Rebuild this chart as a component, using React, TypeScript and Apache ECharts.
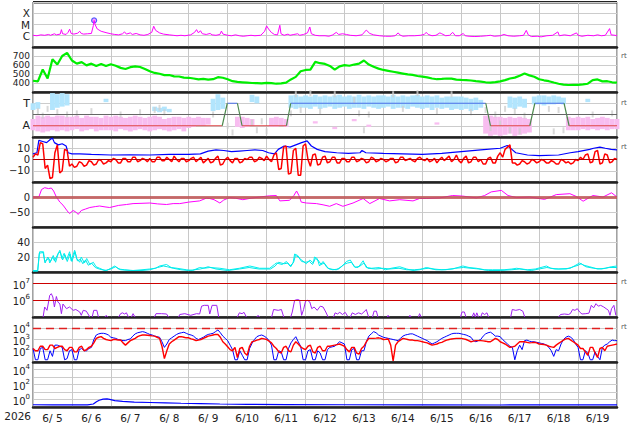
import React, { useEffect, useRef } from 'react';
import * as echarts from 'echarts';

const FONT = 'DejaVu Sans';
const STEP = 0.125; // 3-hour sampling, in days
const FINE = 0.0625; // 1.5-hour sampling, in days
const YEAR_LABEL = '2026';
const DAY_LABELS = ['6/ 5', '6/ 6', '6/ 7', '6/ 8', '6/ 9', '6/10', '6/11', '6/12', '6/13', '6/14', '6/15', '6/16', '6/17', '6/18', '6/19'];
const FLARE_CLASSES: Record<string, string> = { '-6': 'C', '-5': 'M', '-4': 'X' };
const SECTOR_LABELS: Record<string, string> = { '1': 'A', '3': 'T' };

// Panel 1: X-ray flux [day, W/m2]
const XRAY = [[0,1.1e-6],[0.1,1.0e-6],[0.2,1.2e-6],[0.3,1.1e-6],[0.4,1.3e-6],[0.45,1.1e-6],[0.55,1.5e-6],[0.6,1.2e-6],[0.7,1.4e-6],[0.73,3.5e-6],[0.76,1.5e-6],[0.85,1.3e-6],[0.9,2.0e-6],[0.94,3.8e-6],[0.98,1.6e-6],[1.05,1.4e-6],[1.15,1.7e-6],[1.2,2.5e-6],[1.24,1.6e-6],[1.3,1.4e-6],[1.4,1.5e-6],[1.5,1.6e-6],[1.55,8e-6],[1.57,2.3e-5],[1.6,9e-6],[1.65,4e-6],[1.75,2.5e-6],[1.9,1.8e-6],[2.0,1.5e-6],[2.1,1.3e-6],[2.2,1.2e-6],[2.3,1.5e-6],[2.35,2.2e-6],[2.4,1.4e-6],[2.5,1.8e-6],[2.55,1.3e-6],[2.65,1.6e-6],[2.75,1.2e-6],[2.85,1.1e-6],[2.95,1.3e-6],[3.05,2.0e-6],[3.1,7e-6],[3.15,3e-6],[3.25,1.8e-6],[3.35,1.4e-6],[3.5,1.2e-6],[3.6,1.1e-6],[3.7,1.0e-6],[3.8,1.1e-6],[3.9,1.0e-6],[4.05,1.2e-6],[4.15,2e-6],[4.2,3.5e-6],[4.25,1.8e-6],[4.3,2.8e-6],[4.35,1.5e-6],[4.45,1.3e-6],[4.55,1.6e-6],[4.6,1.2e-6],[4.7,1.1e-6],[4.8,1.3e-6],[4.84,2.6e-6],[4.88,1.4e-6],[5.0,1.1e-6],[5.1,1.0e-6],[5.2,1.2e-6],[5.3,1.0e-6],[5.4,0.9e-6],[5.5,1.0e-6],[5.6,1.1e-6],[5.7,1.0e-6],[5.85,1.1e-6],[5.95,2.5e-6],[6.0,7.5e-6],[6.05,4e-6],[6.12,2e-6],[6.2,1.3e-6],[6.28,1.2e-6],[6.34,8.5e-6],[6.37,1.5e-6],[6.45,1.1e-6],[6.55,1.4e-6],[6.6,1.1e-6],[6.7,1.3e-6],[6.8,1.5e-6],[6.85,1.1e-6],[6.95,1.3e-6],[7.05,1.8e-6],[7.11,6e-6],[7.15,1.5e-6],[7.25,1.1e-6],[7.35,1.0e-6],[7.5,1.0e-6],[7.6,0.9e-6],[7.7,1.2e-6],[7.79,2.0e-6],[7.85,1.3e-6],[7.95,1.5e-6],[8.05,1.3e-6],[8.15,1.1e-6],[8.3,1.0e-6],[8.45,1.2e-6],[8.56,3.2e-6],[8.65,1.6e-6],[8.75,1.2e-6],[8.9,1.0e-6],[9.05,0.9e-6],[9.2,0.9e-6],[9.3,1.0e-6],[9.38,1.8e-6],[9.42,1.2e-6],[9.5,0.9e-6],[9.65,1.0e-6],[9.8,1.0e-6],[9.95,1.1e-6],[10.05,1.3e-6],[10.1,2.0e-6],[10.15,1.3e-6],[10.25,1.0e-6],[10.35,1.1e-6],[10.45,1.8e-6],[10.5,1.5e-6],[10.6,1.0e-6],[10.7,1.1e-6],[10.78,2.0e-6],[10.85,1.0e-6],[10.95,1.0e-6],[11.05,1.6e-6],[11.1,1.0e-6],[11.2,0.9e-6],[11.35,0.85e-6],[11.5,0.9e-6],[11.65,1.0e-6],[11.75,1.1e-6],[11.85,0.9e-6],[12.0,1.0e-6],[12.1,1.3e-6],[12.2,1.0e-6],[12.35,0.9e-6],[12.5,1.0e-6],[12.6,1.1e-6],[12.67,3e-6],[12.72,1.2e-6],[12.8,0.85e-6],[12.95,0.9e-6],[13.05,0.8e-6],[13.2,1.0e-6],[13.35,1.1e-6],[13.48,2.2e-6],[13.52,1.0e-6],[13.65,1.2e-6],[13.8,1.0e-6],[13.96,1.8e-6],[14.0,1.1e-6],[14.1,0.9e-6],[14.25,1.1e-6],[14.4,1.0e-6],[14.5,1.2e-6],[14.6,1.0e-6],[14.7,1.1e-6],[14.81,4.3e-6],[14.85,1.2e-6],[14.95,1.1e-6],[15,1.0e-6]];
const FLARE_EVENTS = [[1.57, 2.3e-5]];

// Panel 2: solar wind speed, 3-hourly (km/s)
const SPEED = [
  425, 418, 550, 450, 665, 605, 700, 735,
  650, 615, 632, 596, 615, 590, 612, 588,
  608, 592, 568, 556, 576, 584, 578, 556,
  530, 512, 503, 488, 489, 474, 472, 459,
  458, 450, 440, 445, 438, 442, 465, 458,
  442, 420, 412, 408, 404, 400, 398, 395,
  402, 398, 392, 396, 405, 440, 468, 530,
  545, 548, 635, 620, 612, 590, 548, 585,
  598, 592, 605, 615, 650, 605, 580, 560,
  545, 535, 525, 515, 505, 495, 490, 478,
  470, 462, 450, 442, 445, 450, 448, 438,
  434, 432, 428, 420, 415, 408, 404, 410,
  418, 432, 450, 460, 480, 505, 485, 470,
  442, 430, 420, 405, 392, 382, 378, 380,
  380, 385, 392, 432, 440, 418, 420, 408,
  405,
];

// Panel 3: sector plot, 3-hourly value ranges [low, high] (A=1, T=3)
const SECTOR_T_RANGE = [
  [2.4,3.0],[2.5,3.1],null,null,[2.4,3.9],[2.6,3.8],[2.7,3.9],[2.8,3.8],
  null,null,null,null,null,null,null,[3.1,3.4],
  null,null,null,null,null,null,null,null,
  null,[2.3,2.7],[2.2,2.6],[2.3,2.7],[2.2,2.5],null,null,null,
  null,null,null,null,null,[2.3,3.4],[2.4,3.8],[2.5,3.5],
  null,null,null,null,null,[3.1,3.75],[3.0,3.6],null,
  null,null,null,null,null,[2.6,3.7],[2.5,3.75],[2.6,3.6],
  [2.6,3.7],[2.5,3.6],[2.7,3.75],[2.5,3.6],[2.6,3.7],[2.7,3.6],[2.5,3.7],[2.6,3.75],
  [2.7,3.6],[2.5,3.7],[2.6,3.6],[2.6,3.75],[2.5,3.6],[2.7,3.7],[2.6,3.6],[2.5,3.7],
  [2.6,3.7],[2.7,3.6],[2.5,3.75],[2.6,3.6],[2.6,3.7],[2.5,3.6],[2.7,3.7],[2.6,3.75],
  [2.5,3.6],[2.6,3.7],[2.4,3.6],[2.6,3.7],[2.5,3.5],[2.6,3.6],[2.4,3.6],[2.5,3.6],
  [2.4,3.6],[2.5,3.5],[2.3,3.4],[2.4,3.5],[2.6,3.3],null,null,null,
  null,null,[2.6,3.6],[2.5,3.5],[2.7,3.6],[2.6,3.4],null,[2.9,3.6],
  [2.9,3.7],[2.8,3.7],[2.9,3.6],[2.9,3.7],[3.0,3.6],[2.9,3.5],null,null,
  null,null,[3.1,3.4],null,null,null,null,null,
  null,
];
const SECTOR_A_RANGE = [
  [0.6,1.6],[0.5,1.9],[0.4,1.8],[0.5,1.9],[0.6,1.8],[0.5,1.9],[0.6,1.9],[0.5,1.8],
  [0.6,1.8],[0.7,1.9],[0.5,1.7],[0.6,1.9],[0.7,1.8],[0.5,1.8],[0.6,1.7],[0.6,1.9],
  [0.6,1.8],[0.5,1.9],[0.7,1.8],[0.6,1.7],[0.5,1.8],[0.6,1.9],[0.7,1.8],[0.6,1.7],
  [0.5,1.8],[0.6,1.9],[0.7,1.8],[0.6,1.6],[0.5,1.7],[0.6,1.8],[0.7,1.8],[0.5,1.7],
  [0.8,1.8],[0.9,1.7],[1.0,1.8],[1.0,1.7],[1.1,1.7],null,null,null,
  null,null,[0.9,1.8],[0.8,1.8],[0.9,1.7],[1.0,1.6],null,null,
  null,[0.9,1.7],[0.9,1.8],[1.0,1.7],[0.9,1.6],null,null,null,
  null,null,[1.2,1.4],null,null,null,[0.7,0.9],null,
  null,null,[1.4,1.6],null,null,[0.9,1.1],null,null,
  null,null,null,null,null,null,null,null,
  null,null,null,[1.1,1.3],null,null,null,null,
  null,null,null,null,null,[0.3,1.9],[0.1,1.9],[0.2,1.8],
  [0.1,1.8],[0.2,1.7],[0.3,1.8],[0.1,1.7],[0.2,1.8],[0.3,1.7],[0.4,1.6],null,
  null,null,null,null,null,null,[0.6,1.8],[0.6,1.7],
  [0.6,1.8],[0.7,1.7],[0.6,1.8],[0.7,1.6],[0.6,1.7],[0.7,1.8],[0.6,1.7],[0.7,1.6],
  [0.7,1.6],
];
const SECTOR_GREY = [
  null, 2.3, 1.9, 2.5, null, 2.2, null, 2.0,
  null, 2.1, null, null, 2.3, null, null, null,
  null, null, 2.0, null, null, null, 2.2, null,
  null, 2.4, 2.6, 2.2, null, null, null, null,
  null, null, null, null, null, 2.0, null, null,
  1.0, 0.4, null, null, null, 1.3, 0.6, 1.4,
  0.5, null, null, null, null, 2.1, 3.8, 2.4,
  null, 3.9, null, 2.3, null, null, 3.8, null,
  null, null, 3.3, 2.1, 0.6, 2.0, null, null,
  null, null, 3.8, null, 2.5, null, null, 3.9,
  null, null, null, 2.3, null, null, 3.8, null,
  null, null, 2.2, null, null, 2.4, 0.8, 2.0,
  1.2, 2.5, 0.6, 2.3, 0.5, 1.9, null, null,
  null, null, 2.5, 0.5, 2.4, 0.6, null, null,
  null, null, null, 2.0, null, null, null, 2.1,
  null,
];
const SECTOR_LINE = [[0,1],[4.86,1],[4.99,3],[5.25,3],[5.37,1],[6.51,1],[6.62,3],[11.63,3],[11.75,1],[12.76,1],[12.89,3],[13.64,3],[13.77,1],[15,1]];

// Panel 4: IMF Bt [day, nT] and Bz 1.5-hourly (nT)
const BT = [[0,5],[0.1,6],[0.15,17],[0.25,16],[0.35,15],[0.45,18],[0.5,19],[0.55,15],[0.65,13],[0.75,14],[0.85,12],[0.9,6],[1.0,5],[1.2,5],[1.5,4.5],[2.0,4],[2.5,4.2],[3.0,4],[3.5,4.5],[4.0,4.5],[4.3,5],[4.5,7.5],[4.7,8.5],[4.9,8],[5.1,7],[5.3,7.5],[5.5,8],[5.7,8.5],[5.9,8],[6.05,6],[6.2,5],[6.3,9],[6.45,12],[6.6,11],[6.75,13],[6.9,15],[7.04,16.5],[7.15,12],[7.3,9],[7.5,7],[7.8,6],[8.1,5.5],[8.4,6],[8.45,8],[8.55,6],[9.0,5.5],[9.5,5],[10.0,4.5],[10.5,5.5],[11.0,7],[11.5,8.5],[12.0,10],[12.18,12.5],[12.3,9],[12.4,6],[12.7,4],[13.0,3.5],[13.5,4],[13.8,6],[14.0,7],[14.3,9],[14.4,10],[14.56,11],[14.7,10],[14.85,9],[15,8.5]];
const BZ = [
  2, 5, 4, 15, 14, -8, -5, -17, -16, 6, 13, -12, -10, 9, 8, -6,
  -4, -7, -6, -2, -3, -6, -5, -1, -2, -5, -4, 0, -1, -4, -3, -1,
  -2, 1, 0, -3, -3, 1, 1, -2, -2, 2, 2, -2, -1, 1, 0, -2,
  1, -2, -2, 2, 2, -1, -1, 2, 0, -2, 3, 0, -2, 1, 1, -2,
  -1, 1, 2, -2, 0, 2, -3, -1, 1, -3, -2, 1, 3, -5, -4, 0,
  2, -1, -3, 1, 1, -3, -2, 1, 0, 2, 2, -2, -1, 2, 1, -1,
  3, 0, -2, 4, 6, -9, -8, 11, 12, -13, -12, 8, 10, -14, -14, 12,
  14, 0, -6, 4, 5, -5, -4, 2, 3, -3, -2, 2, 2, -3, -3, 1,
  1, -2, -2, 2, 2, -2, -1, 1, 0, -3, -2, 2, 1, -2, -1, 1,
  0, -2, -1, 1, 1, -3, -2, 2, 2, -1, 0, 1, -1, -2, 1, 2,
  0, -1, 1, -2, -1, 1, -3, 0, 2, -1, 1, 3, -2, 0, 4, -1,
  -3, 1, 3, -3, -2, 2, 2, -2, 0, -4, -4, 1, 2, -3, -3, 3,
  6, 2, 9, 11, 13, -3, -3, -5, -4, -1, -2, -4, -3, 0, -1, -3,
  -2, 0, -1, -3, -3, -1, -2, -4, -4, 0, -1, -3, -2, -4, -3, 0,
  -1, 2, 0, 4, 5, -3, -2, 7, 8, -4, -3, 5, 4, -3, -2, 1,
  0,
];

// Panel 5: Dst [day, nT]
const DST = [[0,0],[0.15,0],[0.22,25],[0.3,31],[0.4,28],[0.47,30],[0.53,20],[0.6,0],[0.69,-17],[0.77,-27],[0.9,-50],[0.94,-55],[1.03,-45],[1.1,-50],[1.16,-58],[1.24,-45],[1.35,-40],[1.46,-35],[1.6,-32],[1.71,-30],[1.85,-33],[1.97,-35],[2.2,-28],[2.4,-25],[2.57,-22],[2.8,-21],[3.0,-20],[3.2,-23],[3.43,-25],[3.6,-22],[3.77,-22],[4.0,-17],[4.28,-13],[4.45,-4],[4.54,-5],[4.65,-9],[4.8,-20],[4.9,-10],[5.05,-2],[5.2,-4],[5.39,-9],[5.6,-4],[5.82,0],[6.08,4],[6.25,5],[6.34,-13],[6.59,-11],[6.7,5],[6.77,20],[6.83,5],[6.89,-17],[7.02,-20],[7.28,-22],[7.45,-26],[7.62,-31],[7.79,-22],[7.96,-31],[8.22,-20],[8.48,-5],[8.65,-22],[8.9,-5],[9.16,-13],[9.42,-9],[9.76,-13],[9.93,-5],[10.1,-5],[10.45,-3],[10.78,5],[11.04,3],[11.39,-3],[11.6,5],[11.77,17],[12.03,22],[12.2,5],[12.42,-2],[12.76,0],[13.14,-8],[13.44,8],[13.79,11],[13.95,2],[14.13,-14],[14.38,5],[14.64,0],[14.86,14],[15,0]];

// Panel 6: two cyan traces [day, value]
const CYAN_A = [[0,2],[0.12,2],[0.17,27],[0.27,27],[0.3,14],[0.4,18],[0.43,12],[0.5,20],[0.55,15],[0.62,22],[0.69,29],[0.74,18],[0.8,25],[0.86,16],[0.94,27],[0.98,15],[1.07,29],[1.12,18],[1.2,13],[1.24,20],[1.32,12],[1.38,18],[1.46,10],[1.55,13],[1.62,7],[1.71,5],[1.8,3],[1.89,2],[2.0,5],[2.1,8],[2.2,4],[2.35,3],[2.57,2],[2.8,3],[3.0,4],[3.15,5],[3.25,8],[3.43,10],[3.55,6],[3.7,5],[3.94,3],[4.1,2],[4.28,6],[4.4,5],[4.54,6],[4.8,5],[5.05,3],[5.3,5],[5.57,8],[5.82,5],[6.08,5],[6.2,10],[6.25,12],[6.4,10],[6.51,14],[6.6,8],[6.68,12],[6.72,24],[6.8,22],[6.85,18],[7.02,11],[7.11,16],[7.2,12],[7.23,20],[7.3,18],[7.36,8],[7.45,14],[7.55,6],[7.62,4],[7.79,3],[7.95,8],[8.05,14],[8.15,16],[8.25,7],[8.35,6],[8.48,15],[8.56,6],[8.7,5],[8.9,6],[9.05,3],[9.2,5],[9.42,7],[9.6,4],[9.76,2],[9.93,3],[10.1,6],[10.3,4],[10.5,3],[10.78,4],[11.04,8],[11.2,6],[11.39,5],[11.6,3],[11.8,3],[12.1,3],[12.3,4],[12.42,5],[12.7,3],[12.9,4],[13.19,8],[13.3,5],[13.5,4],[13.8,5],[14.04,12],[14.15,9],[14.3,7],[14.5,4],[14.7,5],[14.85,7],[15,8]];
const CYAN_B = [[0,1],[0.12,1],[0.16,25],[0.26,26],[0.31,12],[0.38,20],[0.45,14],[0.52,22],[0.58,13],[0.65,25],[0.7,27],[0.76,16],[0.82,23],[0.88,14],[0.95,24],[1.0,14],[1.08,27],[1.14,15],[1.22,17],[1.28,11],[1.35,16],[1.42,9],[1.5,12],[1.6,6],[1.7,4],[1.85,2],[2.0,4],[2.12,7],[2.25,3],[2.5,2],[2.8,2],[3.0,3],[3.2,6],[3.35,8],[3.45,7],[3.6,5],[3.8,3],[4.0,2],[4.3,4],[4.5,7],[4.7,4],[5.0,2],[5.3,4],[5.55,6],[5.8,4],[6.1,4],[6.22,8],[6.3,13],[6.45,11],[6.55,12],[6.62,7],[6.7,14],[6.74,22],[6.82,20],[6.9,14],[7.0,13],[7.1,14],[7.18,10],[7.25,18],[7.32,16],[7.4,10],[7.48,12],[7.58,5],[7.7,3],[7.85,4],[7.98,10],[8.08,12],[8.18,13],[8.28,6],[8.4,8],[8.5,12],[8.6,5],[8.8,4],[9.0,5],[9.15,4],[9.4,5],[9.6,3],[9.8,3],[10.0,4],[10.15,5],[10.35,3],[10.6,3],[10.85,5],[11.06,6],[11.25,5],[11.45,4],[11.7,2],[12.0,2],[12.3,3],[12.5,4],[12.8,2],[13.0,4],[13.2,6],[13.4,4],[13.7,4],[14.0,9],[14.08,11],[14.2,7],[14.4,5],[14.6,4],[14.8,6],[15,6]];

// Panel 7: proton flux, segments [day, log10]
const PROTON_SEGMENTS = [
  [[0.26,5.0],[0.3,5.6],[0.36,5.4],[0.43,6.3],[0.47,6.4],[0.51,6.2],[0.55,5.6],[0.6,6.23],[0.64,5.9],[0.69,5.78],[0.73,5.2],[0.77,5.78],[0.86,5.5],[0.94,5.6],[1.03,5.4],[1.1,5.45],[1.2,5.3],[1.24,5.1],[1.29,5.4],[1.37,5.35],[1.46,5.0]],
  [[1.52,5.0],[1.56,5.4],[1.64,5.4],[1.68,5.0]],
  [[1.85,5.0],[1.88,5.1],[1.92,5.0]],
  [[2.2,5.0],[2.25,5.2],[2.3,5.25],[2.35,5.18],[2.4,5.25],[2.45,5.0]],
  [[2.53,5.0],[2.57,5.2],[2.62,5.0]],
  [[3.12,5.0],[3.16,5.2],[3.3,5.2],[3.43,5.18],[3.48,5.0]],
  [[3.74,5.0],[3.77,5.15],[3.9,5.2],[4.05,5.1],[4.2,5.2],[4.28,5.18],[4.33,5.65],[4.4,5.7],[4.5,5.7],[4.54,5.18],[4.6,5.7],[4.72,5.7],[4.77,5.0]],
  [[5.25,5.0],[5.3,5.25],[5.37,5.2],[5.42,5.28],[5.48,5.0]],
  [[5.75,5.0],[5.78,5.1],[5.82,5.0]],
  [[6.13,5.0],[6.18,5.45],[6.3,5.4],[6.38,5.45],[6.44,5.0]],
  [[6.62,5.0],[6.66,5.3],[6.72,6.0],[6.8,6.05],[6.85,6.0],[6.9,5.1],[6.95,5.45],[7.0,5.95],[7.05,6.0],[7.11,5.9],[7.16,5.5],[7.22,5.6],[7.3,5.4],[7.38,5.65],[7.45,5.6],[7.52,5.3],[7.58,5.0]],
  [[7.72,5.0],[7.76,5.25],[7.82,5.18],[7.88,5.28],[7.95,5.15],[8.02,5.28],[8.08,5.05]],
  [[8.15,5.0],[8.2,5.25],[8.28,5.15],[8.36,5.25],[8.44,5.18],[8.5,5.3],[8.56,5.45],[8.62,5.0]],
  [[8.72,5.0],[8.76,5.35],[8.82,5.35],[8.86,5.0]],
  [[9.1,5.0],[9.12,5.1],[9.15,5.0]],
  [[9.66,5.0],[9.68,5.1],[9.71,5.0]],
  [[9.9,5.0],[9.93,5.2],[9.97,5.0]],
  [[10.98,5.0],[11.02,5.3],[11.08,5.3],[11.12,5.0]],
  [[11.28,5.0],[11.32,5.25],[11.36,5.0],[11.4,5.25],[11.44,5.0]],
  [[11.5,5.0],[11.54,5.25],[11.6,5.15],[11.66,5.25],[11.7,5.0]],
  [[12.27,5.0],[12.31,5.45],[12.4,5.4],[12.5,5.45],[12.58,5.35],[12.63,5.0]],
  [[13.5,5.0],[13.55,5.15],[13.65,5.18],[13.75,5.15],[13.8,5.2],[13.86,5.45],[13.92,5.4],[13.98,5.5],[14.04,5.3],[14.1,5.18],[14.2,5.2],[14.28,5.23],[14.34,5.7],[14.4,5.55],[14.46,5.8],[14.52,5.65],[14.58,5.7],[14.66,5.6],[14.72,5.5],[14.78,5.4],[14.82,5.1],[14.86,5.5],[14.92,5.7],[14.97,5.1]],
];
const PROTON_THRESHOLDS = [1e6, 1e7];

// Panel 8: electron flux, log10, 1.5-hourly
const ELEC_RED = [
  2.2, 2.0, 2.0, 2.4, 2.4, 2.1, 2.1, 2.5, 2.5, 2.2, 2.3, 2.4, 2.4, 2.1, 2.0, 2.3,
  2.3, 1.9, 1.9, 2.3, 2.4, 2.0, 2.1, 2.3, 2.4, 2.7, 3.1, 3.2, 3.25, 3.1, 3.0, 2.95,
  2.9, 3.0, 3.0, 2.95, 2.95, 2.7, 2.5, 2.7, 2.9, 3.0, 3.1, 3.25, 3.35, 3.4, 3.4, 3.38,
  3.35, 3.32, 3.3, 3.2, 3.1, 2.4, 1.3, 2.0, 2.6, 2.8, 2.95, 3.1, 3.25, 3.25, 3.2, 3.15,
  3.15, 3.05, 3.0, 2.9, 2.95, 3.0, 3.1, 3.2, 3.3, 3.35, 3.4, 3.45, 3.45, 3.2, 2.8, 2.6,
  2.35, 2.1, 2.0, 2.3, 1.4, 2.2, 2.3, 1.8, 1.6, 2.4, 2.8, 2.85, 2.95, 3.0, 3.1, 3.05,
  3.0, 2.85, 2.7, 2.4, 2.2, 1.9, 1.8, 2.3, 2.4, 2.0, 1.9, 2.5, 2.8, 2.6, 2.35, 2.2,
  2.1, 2.4, 2.5, 1.9, 1.8, 2.3, 2.4, 2.0, 2.0, 2.4, 2.4, 2.45, 2.5, 2.55, 2.6, 2.5,
  2.4, 2.1, 1.9, 2.3, 2.3, 1.8, 1.7, 2.2, 2.4, 2.8, 3.1, 3.1, 3.1, 3.12, 3.15, 3.1,
  3.0, 3.02, 3.05, 2.5, 1.1, 2.5, 2.8, 2.95, 3.1, 3.05, 3.0, 2.95, 2.95, 2.9, 2.9, 2.85,
  2.8, 2.75, 2.7, 2.6, 2.5, 2.55, 2.6, 2.7, 2.75, 2.85, 2.95, 3.0, 3.05, 3.08, 3.1, 3.1,
  3.1, 3.05, 3.0, 2.9, 2.8, 2.85, 2.9, 2.9, 2.9, 2.88, 2.85, 2.8, 2.8, 2.95, 3.1, 3.0,
  2.8, 2.7, 2.6, 2.45, 2.3, 2.35, 2.4, 2.6, 2.8, 2.8, 2.8, 2.75, 2.7, 2.72, 2.75, 2.7,
  2.6, 2.58, 2.55, 2.5, 2.4, 2.35, 2.3, 2.5, 2.65, 2.8, 2.95, 3.05, 3.1, 2.95, 2.8, 2.65,
  2.5, 2.2, 2.2, 1.9, 1.6, 2.3, 2.3, 1.8, 1.4, 2.2, 2.3, 2.0, 2.4, 2.45, 2.5, 2.55,
  2.6,
];
const ELEC_BLUE = [
  2.2, 1.2, 1.2, 2.2, 2.3, 1.2, 1.2, 2.0, 1.5, 2.5, 2.5, 2.4, 2.3, 1.2, 1.3, 2.0,
  2.1, 1.2, 1.2, 2.1, 2.2, 2.0, 2.0, 2.2, 2.3, 3.0, 3.4, 3.5, 3.55, 3.55, 3.5, 3.4,
  3.2, 3.15, 3.1, 3.0, 2.95, 2.9, 2.9, 3.0, 3.05, 3.3, 3.5, 3.6, 3.65, 3.7, 3.65, 3.55,
  3.45, 3.4, 3.3, 3.25, 3.2, 2.8, 2.3, 2.6, 3.0, 3.15, 3.3, 3.45, 3.55, 3.6, 3.65, 3.55,
  3.45, 3.4, 3.3, 3.1, 3.0, 3.1, 3.2, 3.35, 3.45, 3.5, 3.55, 3.7, 3.85, 3.6, 3.3, 3.1,
  2.9, 2.5, 2.1, 1.2, 1.2, 2.0, 1.6, 1.2, 1.2, 2.2, 2.65, 3.0, 3.25, 3.35, 3.4, 3.3,
  3.15, 2.9, 2.5, 1.2, 1.2, 2.0, 1.9, 1.2, 1.2, 2.2, 2.7, 3.0, 3.25, 2.8, 2.4, 1.2,
  1.2, 2.0, 2.1, 1.2, 1.2, 2.0, 1.8, 1.2, 1.2, 2.1, 2.3, 2.35, 2.4, 2.6, 2.8, 2.7,
  2.6, 1.2, 1.2, 2.1, 2.2, 1.2, 1.2, 2.0, 2.0, 2.8, 3.3, 3.5, 3.7, 3.6, 3.4, 3.3,
  3.2, 3.15, 3.1, 3.05, 3.0, 2.95, 2.9, 3.1, 3.3, 3.4, 3.45, 3.5, 3.5, 3.4, 3.3, 3.2,
  3.1, 3.0, 2.9, 2.75, 2.6, 2.7, 2.8, 2.95, 3.1, 3.2, 3.3, 3.4, 3.5, 3.55, 3.55, 3.55,
  3.5, 3.45, 3.4, 3.3, 3.2, 2.9, 2.8, 2.9, 3.0, 3.3, 3.5, 3.6, 3.65, 3.5, 3.3, 3.3,
  3.25, 3.0, 2.8, 2.6, 2.4, 2.3, 1.2, 2.0, 2.5, 2.1, 2.9, 2.95, 2.85, 2.8, 2.8, 2.75,
  2.7, 2.65, 2.6, 2.5, 2.3, 2.0, 1.5, 2.1, 2.0, 2.6, 3.0, 3.2, 3.3, 3.2, 3.0, 2.6,
  2.3, 1.2, 1.2, 2.0, 1.8, 1.2, 1.2, 1.9, 1.5, 1.2, 2.3, 2.5, 2.6, 2.8, 2.95, 2.9,
  2.9,
];
const ELEC_THRESHOLD = 1e4;

// Panel 9: flux [day, log10]
const PANEL9 = [[0,-0.7],[0.5,-0.72],[1.0,-0.7],[1.4,-0.72],[1.55,-0.6],[1.63,-0.3],[1.7,-0.1],[1.8,0.05],[1.9,0.08],[1.97,0.02],[2.1,-0.15],[2.3,-0.25],[2.6,-0.35],[3.0,-0.4],[3.4,-0.45],[3.8,-0.5],[4.3,-0.55],[4.8,-0.6],[5.5,-0.65],[6.5,-0.68],[8,-0.7],[10,-0.72],[12,-0.73],[14,-0.72],[15,-0.72]];

const sampled = (vals: (number | null)[], step: number) => vals.map((v, i) => [i * step, v]);
const sampledLog = (vals: (number | null)[], step: number) => vals.map((v, i) => [i * step, v == null ? null : Math.pow(10, v)]);
const pairsLog = (pairs: number[][]) => pairs.map(([t, v]) => [t, Math.pow(10, v)]);
const rangesAt3h = (vals: (number[] | null)[]) => vals.map((r, i) => (r ? [i * STEP, r[0], r[1]] : null)).filter(Boolean);
const joinSegments = (segs: number[][][]) => {
  const out: any[] = [];
  segs.forEach((s) => {
    s.forEach(([t, v]) => out.push([t, Math.pow(10, v)]));
    out.push([s[s.length - 1][0] + 0.001, null]);
  });
  return out;
};
const levelLine = (lvl: number) => SECTOR_LINE.map(([t, v]) => [t, v === lvl ? v : null]);
const transitions = () => {
  const out: any[] = [];
  for (let i = 0; i < SECTOR_LINE.length - 1; i++) {
    if (SECTOR_LINE[i][1] !== SECTOR_LINE[i + 1][1]) {
      out.push(SECTOR_LINE[i], SECTOR_LINE[i + 1], [SECTOR_LINE[i + 1][0] + 0.001, null]);
    }
  }
  return out;
};

const PANELS = 9;
const LEFT = 33, RIGHT = 17, TOP0 = 2, PH = 45;

const supLabel = (allowed: number[]) => (v: number) => {
  const e = Math.round(Math.log10(v));
  return allowed.includes(e) ? `{b|10}{s|${e}}` : '';
};
const richSup = {
  b: { fontSize: 10, color: '#222', fontFamily: FONT, lineHeight: 13, verticalAlign: 'bottom' },
  s: { fontSize: 7, color: '#222', fontFamily: FONT, lineHeight: 8, verticalAlign: 'top' },
};

function yAxis(i: number, extra: any, label: any) {
  return {
    gridIndex: i,
    axisLine: { show: false },
    axisTick: { show: false },
    splitLine: { show: true, lineStyle: { color: '#cccccc', width: 1 } },
    axisLabel: { fontSize: 10, color: '#222', margin: 3, fontFamily: FONT, ...label },
    ...extra,
  };
}

function line(i: number, data: any[], color: string, width = 1, extra: any = {}) {
  return {
    type: 'line', xAxisIndex: i, yAxisIndex: i, data, showSymbol: false, silent: true,
    connectNulls: false, lineStyle: { color, width }, itemStyle: { color }, ...extra,
  };
}
const hline = (i: number, values: number[], color: string, width: number, type: any = 'solid') => ({
  type: 'line', xAxisIndex: i, yAxisIndex: i, data: [], silent: true,
  markLine: {
    silent: true, symbol: 'none', label: { show: false }, animation: false,
    lineStyle: { color, width, type }, data: values.map((v) => ({ yAxis: v })),
  },
});
const band = (i: number, data: any[], color: string) => ({
  type: 'custom', xAxisIndex: i, yAxisIndex: i, data, silent: true,
  renderItem: (params: any, api: any) => {
    const t = api.value(0);
    const top = api.coord([t, api.value(2)]);
    const bot = api.coord([t, api.value(1)]);
    const w = api.size([STEP, 0])[0];
    return {
      type: 'rect',
      shape: { x: top[0] - w / 2, y: top[1], width: w, height: bot[1] - top[1] },
      style: { fill: color },
    };
  },
});

export default function App() {
  const ref = useRef<HTMLDivElement>(null);
  useEffect(() => {
    if (!ref.current) return;
    const chart = echarts.init(ref.current, undefined, { renderer: 'svg' });
    const grid: any[] = [];
    const xAxis: any[] = [];
    for (let i = 0; i < PANELS; i++) {
      grid.push({ left: LEFT, right: RIGHT, top: TOP0 + PH * i, height: PH, show: true, borderColor: '#444', borderWidth: 1 });
      xAxis.push({
        gridIndex: i, type: 'value', min: 0, max: 15, interval: 1,
        axisLabel: { show: false }, axisTick: { show: false },
        splitLine: { show: true, lineStyle: { color: '#c8c8c8', width: 1 } },
        axisLine: { show: true, onZero: false, lineStyle: { color: '#222', width: 2.5 } },
      });
    }
    grid.push({ left: LEFT, right: RIGHT, top: TOP0 + PH * (PANELS - 1), height: PH, show: false });
    xAxis.push({
      gridIndex: PANELS, type: 'value', min: 0, max: 15, interval: 0.5,
      axisLine: { show: false }, axisTick: { show: false }, splitLine: { show: false },
      axisLabel: {
        fontSize: 10.5, color: '#222', margin: 5, fontFamily: FONT,
        formatter: (v: number) => {
          const f = v - Math.floor(v);
          return Math.abs(f - 0.5) < 1e-6 ? DAY_LABELS[Math.floor(v)] || '' : '';
        },
      },
    });

    const yAxes: any[] = [
      yAxis(0, { type: 'log', logBase: 10, min: 1e-7, max: 1e-3 }, {
        fontSize: 10.5, lineHeight: 10,
        formatter: (v: number) => FLARE_CLASSES[String(Math.round(Math.log10(v)))] || '',
      }),
      yAxis(1, { type: 'value', min: 300, max: 800, interval: 100 }, {
        fontSize: 9, lineHeight: 9,
        formatter: (v: number) => (v > 300 && v < 800 ? String(v) : ''),
      }),
      yAxis(2, { type: 'value', min: 0, max: 4, interval: 1 }, {
        fontSize: 11, formatter: (v: number) => SECTOR_LABELS[String(v)] || '',
      }),
      yAxis(3, { type: 'value', min: -20, max: 20, interval: 10 }, {
        formatter: (v: number) => (Math.abs(v) <= 10 ? String(v).replace('-', '\u2212') : ''),
      }),
      yAxis(4, { type: 'value', min: -100, max: 50, interval: 50 }, {
        formatter: (v: number) => (v === 0 || v === -50 ? String(v).replace('-', '\u2212') : ''),
      }),
      yAxis(5, { type: 'value', min: 0, max: 60, interval: 20 }, {
        formatter: (v: number) => (v === 20 || v === 40 ? String(v) : ''),
      }),
      yAxis(6, { type: 'log', logBase: 10, min: 1e5, max: 5e7 }, { formatter: supLabel([6, 7]), rich: richSup }),
      yAxis(7, { type: 'log', logBase: 10, min: 1e1, max: 1e5 }, { formatter: supLabel([2, 3, 4]), rich: richSup }),
      yAxis(8, { type: 'log', logBase: 10, min: 1e-1, max: 1e5 }, { formatter: supLabel([0, 2, 4]), rich: richSup }),
      { gridIndex: PANELS, show: false, min: 0, max: 1 },
    ];

    const series: any[] = [
      // panel 1
      line(0, XRAY, '#ff00ff', 1),
      { type: 'scatter', xAxisIndex: 0, yAxisIndex: 0, data: FLARE_EVENTS, symbol: 'circle', symbolSize: 5, silent: true,
        itemStyle: { color: '#ff88ff', borderColor: '#2a3cff', borderWidth: 1.2 } },
      // panel 2
      line(1, sampled(SPEED, STEP), '#00ee00', 2.2),
      // panel 3
      band(2, rangesAt3h(SECTOR_A_RANGE), '#f8bdf0'),
      band(2, rangesAt3h(SECTOR_T_RANGE), '#b2e5fd'),
      { type: 'scatter', xAxisIndex: 2, yAxisIndex: 2, data: sampled(SECTOR_GREY, STEP), symbol: 'rect', symbolSize: [2, 6], silent: true,
        itemStyle: { color: '#cfcfcf' } },
      hline(2, [2], '#666666', 1),
      line(2, levelLine(1), '#e04545', 1.2),
      line(2, levelLine(3), '#4a6fe8', 1.2),
      line(2, transitions(), '#4d8a4d', 1.2),
      // panel 4
      hline(3, [0], '#b00000', 1),
      line(3, BT, '#0000ff', 1.2),
      line(3, sampled(BZ, FINE), '#ff0000', 1.5),
      // panel 5
      hline(4, [0], 'rgba(190,80,80,0.8)', 3),
      line(4, DST, '#ff00ff', 1),
      // panel 6
      line(5, CYAN_A, '#00f0f0', 1),
      line(5, CYAN_B, '#00e8e8', 1),
      // panel 7
      hline(6, PROTON_THRESHOLDS, '#cc0000', 1),
      line(6, joinSegments(PROTON_SEGMENTS), '#a020f0', 1),
      // panel 8
      hline(7, [ELEC_THRESHOLD], '#e02020', 1.3, [8, 5]),
      line(7, sampledLog(ELEC_BLUE, FINE), '#0000ff', 1),
      line(7, sampledLog(ELEC_RED, FINE), '#ff0000', 1.4),
      // panel 9
      line(8, pairsLog(PANEL9), '#0000ff', 1.2),
    ];

    const rtYs = [56, 103, 147, 282, 327];
    const graphic: any[] = [
      { type: 'rect', shape: { x: LEFT, y: 1, width: 634 - LEFT - RIGHT, height: 2.5 }, style: { fill: '#222' } },
      { type: 'text', x: 31, y: 416, style: { text: YEAR_LABEL, fontSize: 10.5, fontFamily: FONT, fill: '#222', align: 'right', verticalAlign: 'middle' } },
      ...rtYs.map((y) => ({ type: 'text', x: 621, y, style: { text: 'rt', fontSize: 7, fontFamily: FONT, fill: '#555', align: 'left', verticalAlign: 'middle' } })),
    ];

    chart.setOption({
      animation: false,
      backgroundColor: '#ffffff',
      textStyle: { fontFamily: FONT },
      grid, xAxis, yAxis: yAxes, series, graphic,
    });
    return () => chart.dispose();
  }, []);
  return <div ref={ref} style={{ position: 'fixed', left: 0, top: 0, width: 634, height: 424, background: '#fff' }} />;
}
